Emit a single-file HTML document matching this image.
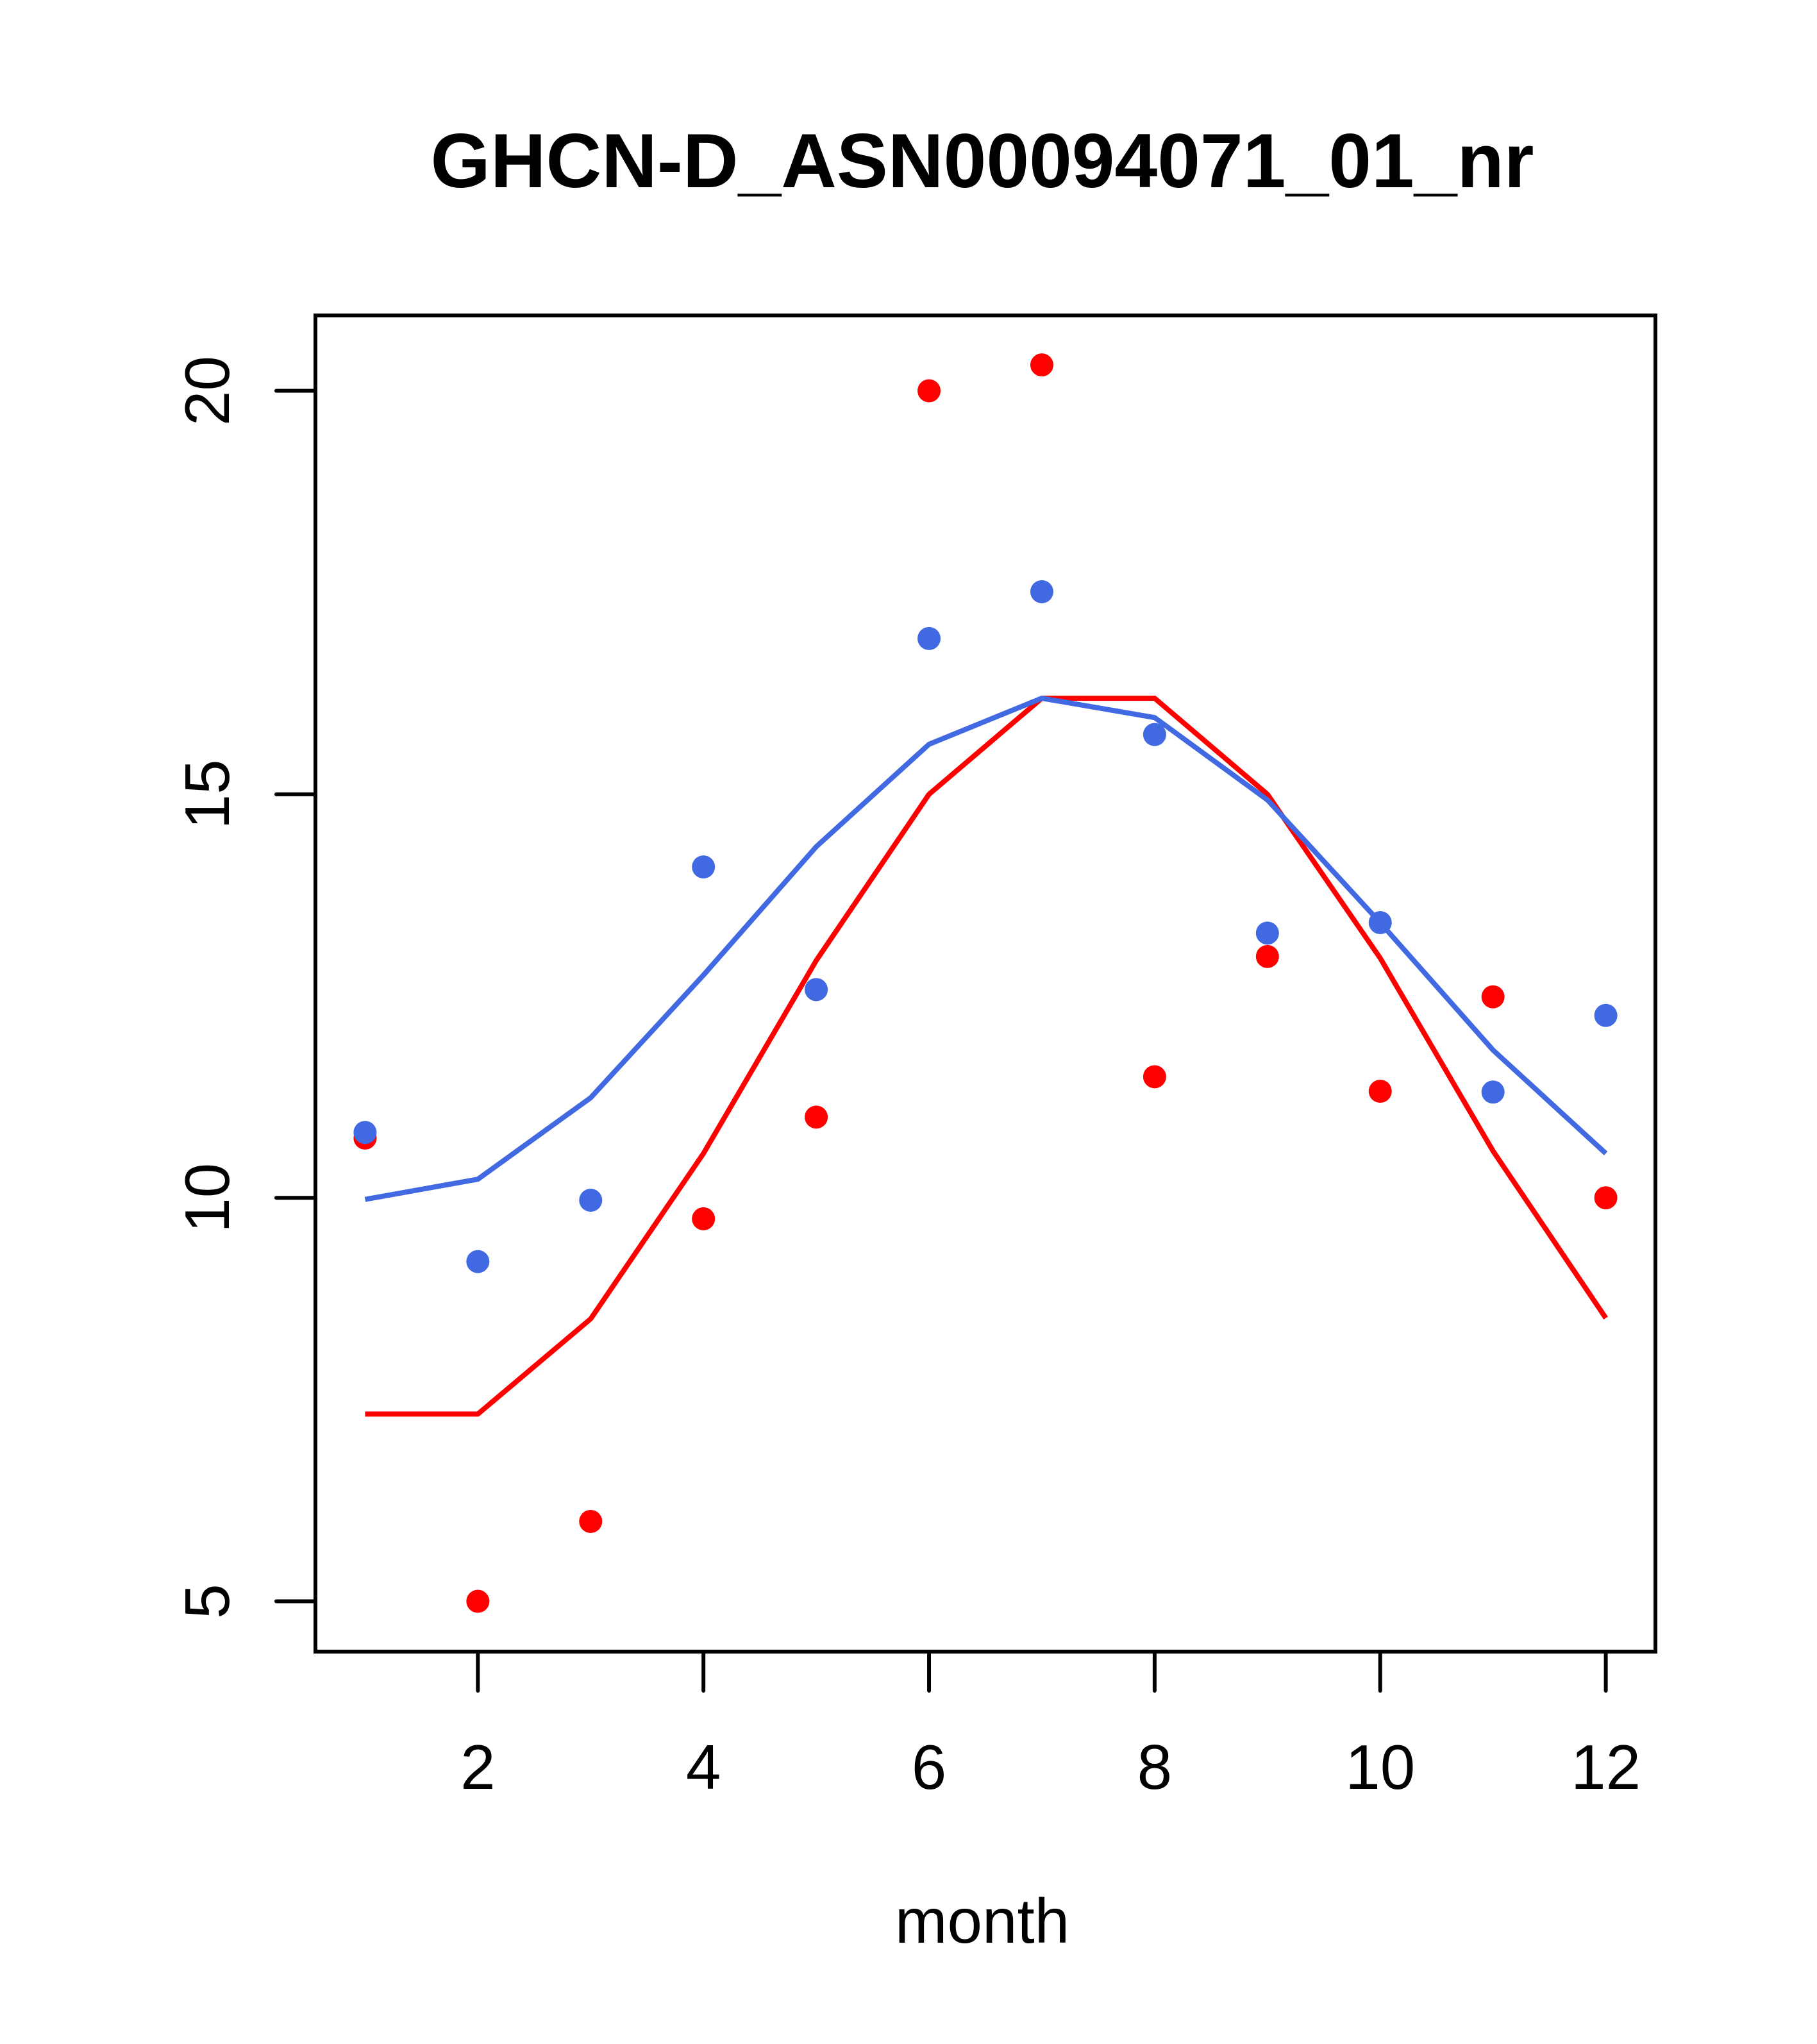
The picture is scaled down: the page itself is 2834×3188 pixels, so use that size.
<!DOCTYPE html>
<html><head><meta charset="utf-8"><style>html,body{margin:0;padding:0;background:#fff}svg{display:block}</style></head>
<body>
<svg id="chart" width="2834" height="3188" viewBox="0 0 2834 3188" xmlns="http://www.w3.org/2000/svg" font-family="Liberation Sans, sans-serif">
<rect width="2834" height="3188" fill="#fff"/>
<text x="1532" y="292" font-size="120" font-weight="bold" text-anchor="middle">GHCN-D_ASN00094071_01_nr</text>
<text x="1532" y="3030" font-size="98" text-anchor="middle">month</text>
<g id="plot"></g>
</svg>
<script>
const months = [1,2,3,4,5,6,7,8,9,10,11,12];
const redPoints = [10.74,5.0,5.99,9.74,11.0,20.0,20.32,11.5,12.99,11.32,12.49,10.0];
const bluePoints = [10.81,9.21,9.97,14.1,12.58,16.93,17.51,15.74,13.28,13.41,11.31,12.26];
const redLine = [7.32,7.32,8.5,10.55,12.94,15.0,16.19,16.19,15.0,12.97,10.58,8.51];
const blueLine = [9.98,10.23,11.24,12.76,14.35,15.62,16.19,15.95,14.93,13.41,11.83,10.55];
const xTicks = [2,4,6,8,10,12];
const yTicks = [5,10,15,20];

const L=492,R=2582,T=492,B=2576;
const xmin=1,xmax=12,ymin=4.99,ymax=20.32;
const xr=xmax-xmin, yr=ymax-ymin;
function sx(v){return L+(v-(xmin-0.04*xr))/(xr*1.08)*(R-L);}
function sy(v){return B-(v-(ymin-0.04*yr))/(yr*1.08)*(B-T);}
const NS='http://www.w3.org/2000/svg';
const g=document.getElementById('plot');
function mk(tag,attrs){const e=document.createElementNS(NS,tag);for(const k in attrs)e.setAttribute(k,attrs[k]);g.appendChild(e);return e;}

function line(vals,color,name){
  const d=vals.map((v,i)=>(i?'L':'M')+sx(months[i]).toFixed(1)+' '+sy(v).toFixed(1)).join(' ');
  const p=mk('path',{d:d,fill:'none',stroke:color,'stroke-width':8,'stroke-linejoin':'round'});
  
  
}
function pts(vals,color,name){
  vals.forEach((v,i)=>{
    const c=mk('circle',{cx:sx(months[i]),cy:sy(v),r:18,fill:color});
    
    
  });
}
line(redLine,'#ff0000','red-line');
line(blueLine,'#4169e1','blue-line');
pts(redPoints,'#ff0000','red-point');
pts(bluePoints,'#4169e1','blue-point');

const box=mk('rect',{x:L,y:T,width:R-L,height:B-T,fill:'none',stroke:'#000','stroke-width':6});



xTicks.forEach(t=>{
  const x=sx(t);
  const tk=mk('line',{x1:x,y1:B,x2:x,y2:B+61,stroke:'#000','stroke-width':6,'stroke-linecap':'round'});
  
  
  const tx=mk('text',{x:x,y:2790,'font-size':98,'text-anchor':'middle'});
  tx.textContent=t;
  
  
});
yTicks.forEach(t=>{
  const y=sy(t);
  const tk=mk('line',{x1:L,y1:y,x2:L-61,y2:y,stroke:'#000','stroke-width':6,'stroke-linecap':'round'});
  
  
  const tx=mk('text',{x:0,y:0,'font-size':98,'text-anchor':'middle',transform:'translate(357,'+y+') rotate(-90)'});
  tx.textContent=t;
  
  
});
</script>
</body></html>
